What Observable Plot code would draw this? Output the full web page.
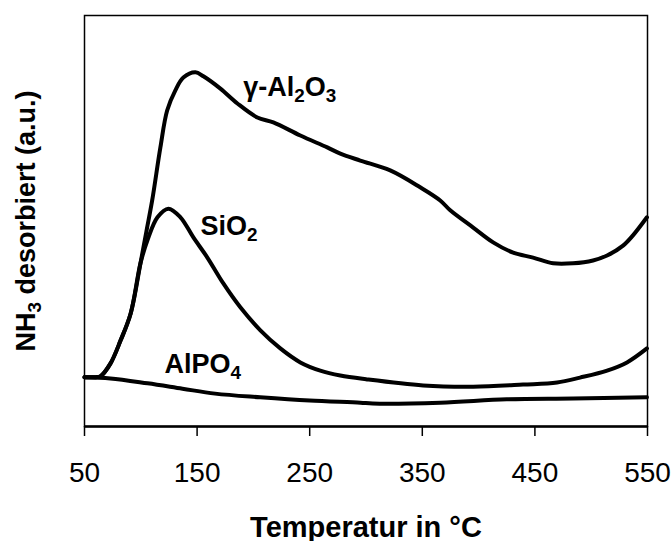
<!DOCTYPE html>
<html><head><meta charset="utf-8">
<script src="https://cdn.jsdelivr.net/npm/d3@7"></script>
<script src="https://cdn.jsdelivr.net/npm/@observablehq/plot@0.6"></script>
<style>html,body{margin:0;padding:0;background:#fff} svg{display:block}</style>
</head><body><div id="chart"></div>
<script>
// Temperature (°C) and NH3 signal (a.u., 0–100 scale of the frame)
const al2o3Temp = [50,60,64,73,82,91,99.7,105,110.1,117.4,123.4,130.7,137.8,148.5,155.6,170.7,185.8,203.5,217.7,241.7,265.6,277.2,294.9,321.5,348.1,365.9,374.8,395.2,412.9,430.7,448.4,466.2,483.9,501.6,514.1,528.3,537.1,549.5];
const al2o3Signal = [12,12,12.2,15.3,20.9,27.5,39.7,47.5,55,67.9,76.9,81.8,84.9,86.2,85.2,82.2,78.6,75.2,74,70.8,67.9,66.4,64.7,62.3,58.2,55,52.6,48.4,44.8,42.3,41.1,39.7,39.7,40.4,41.6,44,46.5,50.9];
const sio2Temp = [50,60,64,73,82,91,99.7,105.9,114.8,124.5,135.2,146.7,159.1,173.3,188.4,206.2,223.9,241.7,259.4,277.2,300,350.8,395.2,439.5,469.7,490.1,514.1,531.8,549.5];
const sio2Signal = [12,12,12.2,15.3,20.9,27.5,39.7,45.3,50.9,53,50.9,46,41.1,34.8,29,23.4,19,15.6,13.6,12.4,11.5,10,9.7,10.2,10.7,11.9,13.6,15.6,19];
const alpo4Temp = [50,73,106,137,166,206,250,295,306,366,425,484,549.5];
const alpo4Signal = [12,11.7,10.5,9.2,8,7.1,6.3,5.8,5.6,5.8,6.6,6.8,7.1];

const labelNames = ["γ-Al₂O₃","SiO₂","AlPO₄"];
const labelTemp = [191,153,121];
const labelSignal = [80.5,46.5,13.1];

const xTicks = [50,150,250,350,450,550];
const xDomain = [50,550];
const yDomain = [0,100];
const xTitle = "Temperatur in °C";
const yTitle = "NH₃ desorbiert (a.u.)";

const series = [
  {name:"γ-Al2O3", t:al2o3Temp, v:al2o3Signal},
  {name:"SiO2", t:sio2Temp, v:sio2Signal},
  {name:"AlPO4", t:alpo4Temp, v:alpo4Signal}
];
const rows = series.flatMap(s => s.t.map((t,i)=>({series:s.name, t, v:s.v[i]})));
const labels = labelNames.map((n,i)=>({n, t:labelTemp[i], v:labelSignal[i]}));

const FONT = "'Liberation Sans', Arial, Helvetica, sans-serif";

const chart = Plot.plot({
  width: 672, height: 541,
  marginLeft: 84, marginRight: 25, marginTop: 15, marginBottom: 115,
  style: {fontFamily: FONT, background: "#fff", color: "#000"},
  x: {domain: xDomain},
  y: {domain: yDomain},
  marks: [
    Plot.frame({stroke: "#000", strokeWidth: 1.5}),
    Plot.ruleY([yDomain[0]], {stroke: "#000", strokeWidth: 2.5}),
    Plot.axisX({ticks: xTicks, tickSize: 10, tickPadding: 26, fontSize: 28, strokeWidth: 1.5, label: null, tickFormat: d => String(d)}),
    Plot.axisY({ticks: [], label: null}),
    Plot.line(rows, {x: "t", y: "v", z: "series", stroke: "#000", strokeWidth: 4, curve: "catmull-rom", strokeLinejoin: "round"}),
    Plot.text(labels, {x: "t", y: "v", text: "n", textAnchor: "start", lineAnchor: "bottom", fontSize: 27, fontWeight: "bold", fill: "#000"}),
    Plot.text([xTitle], {frameAnchor: "bottom", text: d => d, dy: 110, lineAnchor: "bottom", fontSize: 29, fontWeight: "bold", fill: "#000"}),
    Plot.text([yTitle], {frameAnchor: "left", text: d => d, dx: -58, rotate: -90, textAnchor: "middle", fontSize: 27, fontWeight: "bold", fill: "#000"})
  ]
});

// Render Unicode subscript digits as real subscripted tspans
const subMap = {"₀":"0","₁":"1","₂":"2","₃":"3","₄":"4","₅":"5","₆":"6","₇":"7","₈":"8","₉":"9"};
d3.select(chart).selectAll("text").each(function() {
  const s = this.textContent;
  if (!/[\u2080-\u2089]/.test(s)) return;
  const fs = parseFloat(getComputedStyle(this).fontSize) || parseFloat(this.getAttribute("font-size")) || 25;
  const shift = Math.round(fs * 0.22);
  const runs = [];
  for (const ch of s) {
    const sub = ch in subMap;
    const c = sub ? subMap[ch] : ch;
    if (runs.length && runs[runs.length-1].sub === sub) runs[runs.length-1].text += c;
    else runs.push({text: c, sub});
  }
  this.textContent = "";
  let prevSub = false;
  for (const r of runs) {
    const ts = d3.select(this).append("tspan").text(r.text);
    if (r.sub) { ts.attr("font-size", "70%").attr("dy", shift); }
    else if (prevSub) { ts.attr("dy", -shift); }
    prevSub = r.sub;
  }
});

document.getElementById("chart").appendChild(chart);
</script>
</body></html>
